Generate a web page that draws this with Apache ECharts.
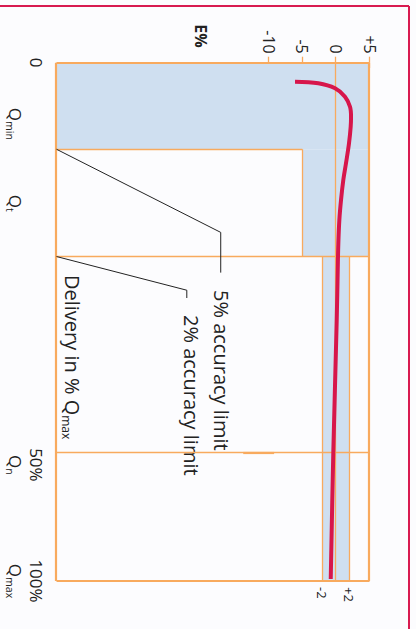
<!DOCTYPE html>
<html>
<head>
<meta charset="utf-8">
<script src="https://cdn.jsdelivr.net/npm/echarts@6/dist/echarts.min.js"></script>
<style>
html,body{margin:0;padding:0;background:#fcfcfe;overflow:hidden;width:416px;height:629px;}
#wrap{position:absolute;left:0;top:0;width:629px;height:416px;transform-origin:0 0;transform:translate(416px,0) rotate(90deg);}
#chart{width:629px;height:416px;}
</style>
</head>
<body>
<div id="wrap"><div id="chart"></div></div>
<script>
// ---- data (flow axis is position along the drawn delivery axis, 0..100) ----
const flowMin = 0, flowMax = 100;
const errMin = -41.6, errMax = 5;
const flowTickPos = [0, 11.8, 27.1, 77.6, 100];
const flowTickTop = ['0', '', '', '50%', '100%'];
const flowTickSub = ['', 'min', 't', 'n', 'max'];
const errTicks = [5, 0, -5, -10];
const errTickLabels = ['+5', '0', '-5', '-10'];
const bandTicks = [-2, 2];
const bandTickLabels = ['-2', '+2'];
const qMinPos = 16.7, qtPos = 37.4, q50Pos = 75.25;
const limit5 = 5, limit2 = 2;
const curveFlow = [3.67, 3.97, 4.94, 6.56, 8.49, 10.42, 12.35, 15.55, 19.41, 22.63, 26.49, 30.35, 34.85, 40.0, 49.64, 75.25, 99.6];
const curveError = [-6.09, -2.62, -0.13, 1.35, 2.10, 2.25, 2.20, 1.95, 1.50, 1.10, 0.76, 0.51, 0.36, 0.27, 0.12, -0.39, -0.77];
const leader5Flow = [qMinPos, 32.74, 40.5];
const leader5Err = [errMin, -17.15, -17.15];
const leader2Flow = [qtPos, 43.9, 45.4];
const leader2Err = [errMin, -22.2, -22.2];
const markSegFlow = [q50Pos, q50Pos];
const markSegErr = [-13.8, -9.2];

const ORANGE = '#f8aa5e', BLUE = '#cfdff0', RED = '#d7164b', INK = '#222222';
const FONT = 'Open Sans';

const chart = echarts.init(document.getElementById('chart'), null, {renderer: 'svg'});

function seg(a, b) { return [{coord: a}, {coord: b}]; }
function pts(fx, ey) { return fx.map((f, i) => [f, ey[i]]); }

const option = {
  backgroundColor: '#fcfcfe',
  animation: false,
  grid: {left: 62.7, right: 48, top: 46.5, bottom: 56.5, show: false},
  xAxis: {
    type: 'value', min: flowMin, max: flowMax,
    axisLine: {show: false}, axisTick: {show: false}, splitLine: {show: false},
    axisLabel: {
      customValues: flowTickPos,
      margin: 10, verticalAlign: 'top', align: 'center',
      fontFamily: FONT, fontSize: 17, color: INK, lineHeight: 21,
      formatter: function (v) {
        let i = 0, best = 1e9;
        flowTickPos.forEach((p, k) => { if (Math.abs(p - v) < best) { best = Math.abs(p - v); i = k; } });
        const top = flowTickTop[i] ? '{t|' + flowTickTop[i] + '}' : '{t| }';
        return flowTickSub[i] ? top + '\n{q|Q}{s|' + flowTickSub[i] + '}' : top;
      },
      rich: {
        t: {fontFamily: FONT, fontSize: 17, lineHeight: 21, color: INK},
        q: {fontFamily: FONT, fontSize: 17, lineHeight: 21, color: INK},
        s: {fontFamily: FONT, fontSize: 10.5, lineHeight: 12, verticalAlign: 'bottom', color: INK}
      }
    }
  },
  yAxis: [
    {
      type: 'value', min: errMin, max: errMax, position: 'left',
      axisLine: {show: false}, splitLine: {show: false},
      axisTick: {show: true, customValues: errTicks, length: 6, lineStyle: {color: ORANGE, width: 1.3}},
      axisLabel: {
        customValues: errTicks, margin: 9, fontFamily: FONT, fontSize: 16, color: INK,
        formatter: function (v) { return errTickLabels[errTicks.indexOf(v)]; }
      }
    },
    {
      type: 'value', min: errMin, max: errMax, position: 'left', offset: 0,
      axisLine: {show: false}, splitLine: {show: false}, axisLabel: {show: false},
      axisTick: {show: true, inside: true, customValues: errTicks, length: 5.5, lineStyle: {color: ORANGE, width: 1.3}}
    },
    {
      type: 'value', min: errMin, max: errMax, position: 'right',
      axisLine: {show: false}, splitLine: {show: false}, axisTick: {show: false},
      axisLabel: {
        customValues: bandTicks, margin: 6, fontFamily: FONT, fontSize: 13, color: INK,
        formatter: function (v) { return bandTickLabels[bandTicks.indexOf(v)]; }
      }
    }
  ],
  series: [
    {
      name: 'zones', type: 'line', data: [], z: 1, clip: false,
      markArea: {
        silent: true,
        itemStyle: {color: BLUE, borderWidth: 0},
        data: [
          seg([flowMin, errMin], [qMinPos, errMax]),
          seg([qMinPos, -limit5], [qtPos, limit5]),
          seg([qtPos, -limit2], [flowMax, limit2])
        ]
      }
    },
    {
      name: 'limits', type: 'line', data: [], z: 3, clip: false,
      markLine: {
        silent: true, symbol: 'none', label: {show: false},
        lineStyle: {color: ORANGE, width: 1.3, type: 'solid'},
        data: [
          seg([qMinPos, errMin], [qMinPos, -limit5]),
          seg([qMinPos, -limit5], [qtPos, -limit5]),
          seg([qtPos, errMin], [qtPos, errMax]),
          seg([q50Pos, errMin], [q50Pos, errMax]),
          seg([flowMin, 0], [flowMax, 0]),
          seg([qtPos, -limit2], [flowMax, -limit2]),
          seg([qtPos, limit2], [flowMax, limit2])
        ]
      }
    },
    {
      name: 'frame', type: 'line', data: [], z: 4, clip: false,
      markLine: {
        silent: true, symbol: 'none', label: {show: false},
        lineStyle: {color: ORANGE, width: 2.2, type: 'solid'},
        data: [
          seg([flowMin, errMin], [flowMax, errMin]),
          seg([flowMin, errMax], [flowMax, errMax]),
          seg([flowMin, errMin], [flowMin, errMax]),
          seg([flowMax, errMin], [flowMax, errMax]),
          seg([markSegFlow[0], markSegErr[0]], [markSegFlow[1], markSegErr[1]])
        ]
      }
    },
    {
      name: 'leader5', type: 'line', z: 5, clip: false, symbol: 'none',
      lineStyle: {color: INK, width: 1},
      data: pts(leader5Flow, leader5Err)
    },
    {
      name: 'leader2', type: 'line', z: 5, clip: false, symbol: 'none',
      lineStyle: {color: INK, width: 1},
      data: pts(leader2Flow, leader2Err)
    },
    {
      name: 'error', type: 'line', z: 10, symbol: 'none', smooth: 0.35, clip: false,
      lineStyle: {color: RED, width: 4},
      data: pts(curveFlow, curveError)
    }
  ],
  graphic: [
    {type: 'line', shape: {x1: 6, y1: 7, x2: 640, y2: 7}, style: {stroke: '#d81b50', lineWidth: 2}, silent: true},
    {type: 'line', shape: {x1: 6, y1: 7, x2: 6, y2: 420}, style: {stroke: '#d81b50', lineWidth: 2}, silent: true},
    {type: 'text', x: 36, y: 215, silent: true,
      style: {text: 'E%', fontFamily: FONT, fontSize: 16, fontWeight: 'bold', fill: INK, align: 'center', verticalAlign: 'middle'}},
    {type: 'text', x: 290, y: 195, silent: true,
      style: {text: '5% accuracy limit', fontFamily: FONT, fontSize: 20, fill: INK, align: 'left', verticalAlign: 'middle'}},
    {type: 'text', x: 315, y: 225, silent: true,
      style: {text: '2% accuracy limit', fontFamily: FONT, fontSize: 20, fill: INK, align: 'left', verticalAlign: 'middle'}},
    {type: 'text', x: 275, y: 344, silent: true,
      style: {
        text: '{a|Delivery in % Q}{b|max}', fontFamily: FONT, fill: INK, align: 'left', verticalAlign: 'middle',
        rich: {
          a: {fontFamily: FONT, fontSize: 20, lineHeight: 24, fill: INK},
          b: {fontFamily: FONT, fontSize: 12, lineHeight: 13, verticalAlign: 'bottom', fill: INK}
        }
      }}
  ]
};
chart.setOption(option);
</script>
</body>
</html>
